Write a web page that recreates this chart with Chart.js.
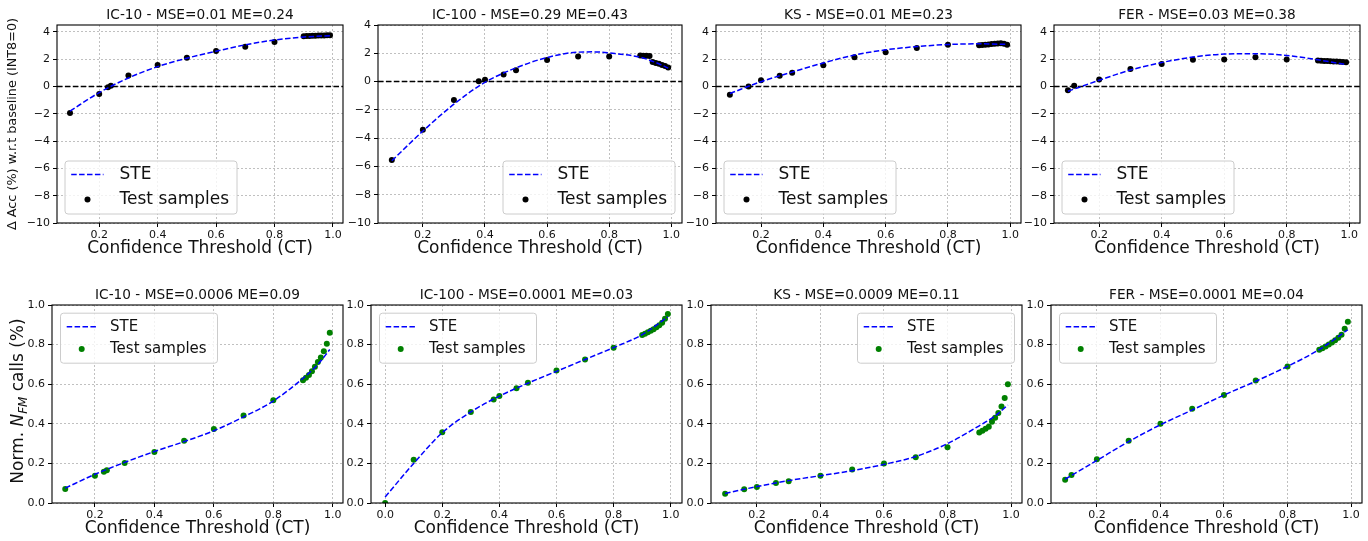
<!DOCTYPE html>
<html lang="en">
<head>
<meta charset="UTF-8">
<title>STE vs test samples</title>
<script src="https://cdn.jsdelivr.net/npm/chart.js"></script>
<style>
  body { margin: 0; background: #fff; }
  #wrap { position: relative; width: 1368px; height: 541px; }
  #wrap canvas { position: absolute; left: 0; top: 0; }
</style>
</head>
<body>
<div id="wrap">
  <canvas id="acc-ic10" width="1368" height="541"></canvas>
  <canvas id="acc-ic100" width="1368" height="541"></canvas>
  <canvas id="acc-ks" width="1368" height="541"></canvas>
  <canvas id="acc-fer" width="1368" height="541"></canvas>
  <canvas id="nfm-ic10" width="1368" height="541"></canvas>
  <canvas id="nfm-ic100" width="1368" height="541"></canvas>
  <canvas id="nfm-ks" width="1368" height="541"></canvas>
  <canvas id="nfm-fer" width="1368" height="541"></canvas>
</div>
<script>
// thresholds used by every panel close to CT = 1
const ctTail = [0.90, 0.91, 0.92, 0.93, 0.94, 0.95, 0.96, 0.97, 0.98, 0.99];

// ---- top row: delta accuracy (%) ----
const ic10AccCT = [0.1, 0.2, 0.23, 0.24, 0.3, 0.4, 0.5, 0.6, 0.7, 0.8, ...ctTail];
const ic10Acc = [-1.95, -0.55, -0.05, 0.05, 0.8, 1.57, 2.1, 2.6, 2.9, 3.25,
                 3.68, 3.7, 3.7, 3.72, 3.72, 3.73, 3.74, 3.74, 3.75, 3.75];
const ic10AccSteCT = [0.1, 0.2, 0.3, 0.4, 0.5, 0.6, 0.7, 0.8, 0.9, 0.99];
const ic10AccSte = [-1.8, -0.45, 0.62, 1.45, 2.07, 2.57, 3.05, 3.4, 3.62, 3.72];

const ic100AccCT = [0.1, 0.2, 0.3, 0.38, 0.4, 0.46, 0.5, 0.6, 0.7, 0.8, ...ctTail];
const ic100Acc = [-5.55, -3.4, -1.3, 0.02, 0.12, 0.5, 0.8, 1.52, 1.78, 1.78,
                  1.85, 1.83, 1.82, 1.8, 1.38, 1.32, 1.26, 1.18, 1.1, 1.0];
const ic100AccSteCT = [0.1, 0.2, 0.3, 0.4, 0.5, 0.6, 0.7, 0.75, 0.8, 0.9, 0.95, 0.99];
const ic100AccSte = [-5.6, -3.5, -1.6, -0.05, 0.97, 1.7, 2.08, 2.1, 2.02, 1.72, 1.35, 0.95];

const ksAccCT = [0.1, 0.16, 0.2, 0.26, 0.3, 0.4, 0.5, 0.6, 0.7, 0.8, ...ctTail];
const ksAcc = [-0.6, 0.0, 0.45, 0.78, 1.0, 1.55, 2.13, 2.5, 2.82, 3.06,
               3.02, 3.04, 3.06, 3.08, 3.1, 3.12, 3.15, 3.17, 3.12, 3.05];
const ksAccSteCT = [0.1, 0.2, 0.3, 0.4, 0.5, 0.6, 0.7, 0.8, 0.9, 0.99];
const ksAccSte = [-0.52, 0.35, 1.05, 1.72, 2.3, 2.68, 2.92, 3.07, 3.12, 3.08];

const ferAccCT = [0.1, 0.12, 0.2, 0.3, 0.4, 0.5, 0.6, 0.7, 0.8, ...ctTail];
const ferAcc = [-0.28, 0.05, 0.5, 1.27, 1.65, 1.96, 1.98, 2.13, 1.98,
                1.9, 1.88, 1.87, 1.86, 1.85, 1.83, 1.82, 1.8, 1.79, 1.77];
const ferAccSteCT = [0.1, 0.2, 0.3, 0.4, 0.5, 0.6, 0.7, 0.8, 0.9, 0.99];
const ferAccSte = [-0.35, 0.45, 1.2, 1.75, 2.15, 2.37, 2.4, 2.27, 1.95, 1.6];

// ---- bottom row: normalised N_FM calls ----
const ic10NfmCT = [0.1, 0.2, 0.23, 0.24, 0.3, 0.4, 0.5, 0.6, 0.7, 0.8, ...ctTail];
const ic10Nfm = [0.071, 0.138, 0.158, 0.165, 0.202, 0.258, 0.314, 0.374, 0.442, 0.519,
                 0.62, 0.632, 0.646, 0.666, 0.688, 0.712, 0.735, 0.767, 0.804, 0.86];
const ic10NfmSteCT = [0.1, 0.2, 0.3, 0.4, 0.5, 0.6, 0.7, 0.8, 0.9, 0.95, 0.99];
const ic10NfmSte = [0.075, 0.145, 0.205, 0.26, 0.31, 0.365, 0.435, 0.515, 0.63, 0.7, 0.775];

const ic100NfmCT = [0.0, 0.1, 0.2, 0.3, 0.38, 0.4, 0.46, 0.5, 0.6, 0.7, 0.8, ...ctTail];
const ic100Nfm = [0.0, 0.219, 0.357, 0.46, 0.523, 0.541, 0.58, 0.607, 0.669, 0.725, 0.784,
                  0.848, 0.855, 0.862, 0.87, 0.878, 0.887, 0.898, 0.91, 0.93, 0.955];
const ic100NfmSteCT = [0.0, 0.1, 0.2, 0.3, 0.4, 0.5, 0.6, 0.7, 0.8, 0.9, 0.99];
const ic100NfmSte = [0.03, 0.2, 0.355, 0.46, 0.54, 0.605, 0.665, 0.725, 0.785, 0.85, 0.94];

const ksNfmCT = [0.1, 0.16, 0.2, 0.26, 0.3, 0.4, 0.5, 0.6, 0.7, 0.8, ...ctTail];
const ksNfm = [0.047, 0.069, 0.081, 0.101, 0.11, 0.137, 0.169, 0.199, 0.231, 0.282,
               0.356, 0.365, 0.375, 0.385, 0.41, 0.43, 0.455, 0.487, 0.53, 0.6];
const ksNfmSteCT = [0.1, 0.2, 0.3, 0.4, 0.5, 0.6, 0.7, 0.8, 0.9, 0.95, 0.99];
const ksNfmSte = [0.048, 0.083, 0.113, 0.138, 0.163, 0.195, 0.235, 0.3, 0.39, 0.44, 0.495];

const ferNfmCT = [0.1, 0.12, 0.2, 0.3, 0.4, 0.5, 0.6, 0.7, 0.8, ...ctTail];
const ferNfm = [0.118, 0.142, 0.221, 0.315, 0.4, 0.476, 0.545, 0.619, 0.69,
                0.774, 0.782, 0.79, 0.8, 0.81, 0.822, 0.835, 0.85, 0.88, 0.915];
const ferNfmSteCT = [0.1, 0.2, 0.3, 0.4, 0.5, 0.6, 0.7, 0.8, 0.9, 0.99];
const ferNfmSte = [0.12, 0.215, 0.31, 0.395, 0.47, 0.545, 0.615, 0.69, 0.775, 0.875];

const accTicks = [-10, -8, -6, -4, -2, 0, 2, 4];

// frame round the plot area + the dashed zero line of the accuracy plots
const axesFrame = {
  id: 'axesFrame',
  beforeDatasetsDraw(chart, args, o) {
    if (!o.zeroLine) return;
    const {ctx, chartArea: a} = chart;
    const y0 = chart.scales.y.getPixelForValue(0);
    ctx.save();
    ctx.strokeStyle = '#000';
    ctx.lineWidth = 1.5;
    ctx.setLineDash([5.5, 2.4]);
    ctx.beginPath();
    ctx.moveTo(a.left, y0);
    ctx.lineTo(a.right, y0);
    ctx.stroke();
    ctx.restore();
  },
  afterDatasetsDraw(chart) {
    const {ctx, chartArea: a} = chart;
    ctx.save();
    ctx.strokeStyle = '#000';
    ctx.lineWidth = 1.1;
    ctx.strokeRect(a.left, a.top, a.right - a.left, a.bottom - a.top);
    ctx.restore();
  }
};

// matplotlib style legend box inside the axes
const boxLegend = {
  id: 'boxLegend',
  afterDraw(chart, args, o) {
    if (!o.corner) return;
    const {ctx, chartArea: a} = chart;
    const x = o.corner[1] === 'l' ? a.left + o.padX : a.right - o.padX - o.width;
    const y = o.corner[0] === 'l' ? a.bottom - o.padY - o.height : a.top + o.padY;
    const [ste, pts] = chart.data.datasets;
    ctx.save();
    ctx.beginPath();
    ctx.roundRect(x + 0.5, y + 0.5, o.width, o.height, 3);
    ctx.fillStyle = 'rgba(255,255,255,0.8)';
    ctx.fill();
    ctx.strokeStyle = '#cccccc';
    ctx.lineWidth = 1;
    ctx.stroke();

    ctx.strokeStyle = ste.borderColor;
    ctx.lineWidth = 1.5;
    ctx.setLineDash(ste.borderDash);
    ctx.beginPath();
    ctx.moveTo(x + o.lineX0, y + o.row1);
    ctx.lineTo(x + o.lineX1, y + o.row1);
    ctx.stroke();
    ctx.setLineDash([]);

    ctx.fillStyle = pts.backgroundColor;
    ctx.beginPath();
    ctx.arc(x + o.dotX, y + o.row2, 3, 0, Math.PI * 2);
    ctx.fill();

    ctx.fillStyle = '#111';
    ctx.font = o.fontSize + 'px "DejaVu Sans"';
    ctx.textBaseline = 'middle';
    ctx.fillText(ste.label, x + o.textX, y + o.row1);
    ctx.fillText(pts.label, x + o.textX, y + o.row2);
    ctx.restore();
  }
};

// y label with italic N and subscript FM
const nfmLabel = {
  id: 'nfmLabel',
  afterDraw(chart, args, o) {
    if (!o.parts) return;
    const {ctx, chartArea: a} = chart;
    const fonts = o.parts.map(p => (p.italic ? 'italic ' : '') + (o.size * p.scale) + 'px "DejaVu Sans"');
    ctx.save();
    let total = 0;
    const widths = o.parts.map((p, i) => { ctx.font = fonts[i]; const w = ctx.measureText(p.text).width; total += w; return w; });
    ctx.translate(o.x, (a.top + a.bottom) / 2 - 3);
    ctx.rotate(-Math.PI / 2);
    ctx.fillStyle = '#111';
    ctx.textBaseline = 'middle';
    let cx = -total / 2;
    o.parts.forEach((p, i) => {
      ctx.font = fonts[i];
      ctx.fillText(p.text, cx, p.sub ? o.size * 0.3 : 0);
      cx += widths[i];
    });
    ctx.restore();
  }
};

Chart.defaults.font.family = '"DejaVu Sans", sans-serif';
Chart.defaults.color = '#111';
Chart.register(axesFrame, boxLegend, nfmLabel);

const topLegend = {width: 172, height: 53, padX: 7.5, padY: 9.5, lineX0: 6.7, lineX1: 39, dotX: 23, textX: 55, row1: 14, row2: 39, fontSize: 17};
const bottomLegend = {width: 157, height: 50, padX: 8, padY: 7.7, lineX0: 6.7, lineX1: 36.7, dotX: 21.7, textX: 50, row1: 14, row2: 36.3, fontSize: 15};

const panels = [
  {id: 'acc-ic10', box: [57, 25, 343, 223], x: [0.0555, 1.0345], y: [-10, 4.5], acc: true,
   title: 'IC-10 - MSE=0.01 ME=0.24', steX: ic10AccSteCT, steY: ic10AccSte, ptX: ic10AccCT, ptY: ic10Acc,
   dot: '#000', legend: Object.assign({corner: 'll'}, topLegend), yTitle: 'Δ Acc (%) w.r.t baseline (INT8=0)'},
  {id: 'acc-ic100', box: [378, 25, 682, 223], x: [0.0555, 1.0345], y: [-10, 4], acc: true,
   title: 'IC-100 - MSE=0.29 ME=0.43', steX: ic100AccSteCT, steY: ic100AccSte, ptX: ic100AccCT, ptY: ic100Acc,
   dot: '#000', legend: Object.assign({corner: 'lr'}, topLegend)},
  {id: 'acc-ks', box: [716, 25, 1021, 223], x: [0.0555, 1.0345], y: [-10, 4.5], acc: true,
   title: 'KS - MSE=0.01 ME=0.23', steX: ksAccSteCT, steY: ksAccSte, ptX: ksAccCT, ptY: ksAcc,
   dot: '#000', legend: Object.assign({corner: 'll'}, topLegend)},
  {id: 'acc-fer', box: [1054, 25, 1360, 223], x: [0.0555, 1.0345], y: [-10, 4.5], acc: true,
   title: 'FER - MSE=0.03 ME=0.38', steX: ferAccSteCT, steY: ferAccSte, ptX: ferAccCT, ptY: ferAcc,
   dot: '#000', legend: Object.assign({corner: 'll'}, topLegend)},
  {id: 'nfm-ic10', box: [52, 305, 343, 503], x: [0.0555, 1.0345], y: [0, 1],
   title: 'IC-10 - MSE=0.0006 ME=0.09', steX: ic10NfmSteCT, steY: ic10NfmSte, ptX: ic10NfmCT, ptY: ic10Nfm,
   dot: 'green', legend: Object.assign({corner: 'ul'}, bottomLegend), nfm: true},
  {id: 'nfm-ic100', box: [371, 305, 682, 503], x: [-0.0495, 1.0395], y: [0, 1],
   title: 'IC-100 - MSE=0.0001 ME=0.03', steX: ic100NfmSteCT, steY: ic100NfmSte, ptX: ic100NfmCT, ptY: ic100Nfm,
   dot: 'green', legend: Object.assign({corner: 'ul'}, bottomLegend)},
  {id: 'nfm-ks', box: [711, 305, 1022, 503], x: [0.0555, 1.0345], y: [0, 1],
   title: 'KS - MSE=0.0009 ME=0.11', steX: ksNfmSteCT, steY: ksNfmSte, ptX: ksNfmCT, ptY: ksNfm,
   dot: 'green', legend: Object.assign({corner: 'ur'}, bottomLegend)},
  {id: 'nfm-fer', box: [1051, 305, 1362, 503], x: [0.0555, 1.0345], y: [0, 1],
   title: 'FER - MSE=0.0001 ME=0.04', steX: ferNfmSteCT, steY: ferNfmSte, ptX: ferNfmCT, ptY: ferNfm,
   dot: 'green', legend: Object.assign({corner: 'ul'}, bottomLegend)}
];

function pairs(xs, ys) {
  return xs.map((x, i) => ({x: x, y: ys[i]}));
}

function buildChart(p) {
  const [axL, axT, axR, axB] = p.box;
  const yW = p.yTitle ? axL : 40;
  const xH = 36;
  const titleSize = 13.7;
  const titleH = titleSize * 1.2 + 1;
  const tickGrid = {color: '#b0b0b0', lineWidth: 0.8, tickColor: '#000', tickLength: 4, tickWidth: 1, tickBorderDash: []};

  return new Chart(document.getElementById(p.id), {
    type: 'scatter',
    data: {
      datasets: [
        {label: 'STE', data: pairs(p.steX, p.steY), showLine: true, borderColor: 'blue', borderWidth: 1.5,
         borderDash: [5.5, 2.4], pointRadius: 0, cubicInterpolationMode: 'monotone', fill: false},
        {label: 'Test samples', data: pairs(p.ptX, p.ptY), pointRadius: 3, pointHoverRadius: 3,
         backgroundColor: p.dot, borderColor: p.dot, borderWidth: 0}
      ]
    },
    options: {
      responsive: false,
      animation: false,
      devicePixelRatio: 1,
      layout: {padding: {left: axL - yW, top: axT - titleH, right: 1368 - axR, bottom: 541 - axB - xH}},
      scales: {
        x: {
          type: 'linear', min: p.x[0], max: p.x[1],
          ticks: {stepSize: 0.2, includeBounds: false, autoSkip: false, maxRotation: 0, padding: 2,
                  font: {size: 11}, color: '#111', callback: v => v.toFixed(1)},
          grid: tickGrid,
          border: {display: false, dash: [2, 2]},
          title: {display: true, text: 'Confidence Threshold (CT)', font: {size: 17}, padding: 0, color: '#111'},
          afterFit: s => { s.height = xH; }
        },
        y: {
          type: 'linear', min: p.y[0], max: p.y[1],
          ticks: p.acc
            ? {stepSize: 2, includeBounds: false, autoSkip: false, padding: 3, font: {size: 11}, color: '#111',
               callback: v => (v < 0 ? '\u2212' + Math.abs(v) : String(v))}
            : {stepSize: 0.2, includeBounds: false, autoSkip: false, padding: 3, font: {size: 11}, color: '#111',
               callback: v => v.toFixed(1)},
          grid: tickGrid,
          border: {display: false, dash: [2, 2]},
          title: {display: !!p.yTitle, text: p.yTitle || '', font: {size: 12.8}, padding: {top: 4.5, bottom: 0}, color: '#111'},
          afterFit: s => { s.width = yW; }
        }
      },
      plugins: {
        legend: {display: false},
        tooltip: {enabled: false},
        title: {display: true, text: p.title, fullSize: false, color: '#111',
                font: {size: titleSize, weight: 'normal', lineHeight: 1.2}, padding: {top: 0, bottom: 1}},
        axesFrame: {zeroLine: !!p.acc},
        boxLegend: p.legend,
        nfmLabel: p.nfm ? {x: 19, size: 17, parts: [
          {text: 'Norm. ', scale: 1},
          {text: 'N', scale: 1, italic: true},
          {text: 'FM', scale: 0.7, italic: true, sub: true},
          {text: ' calls (%)', scale: 1}
        ]} : {}
      }
    }
  });
}

panels.forEach(buildChart);
</script>
</body>
</html>
